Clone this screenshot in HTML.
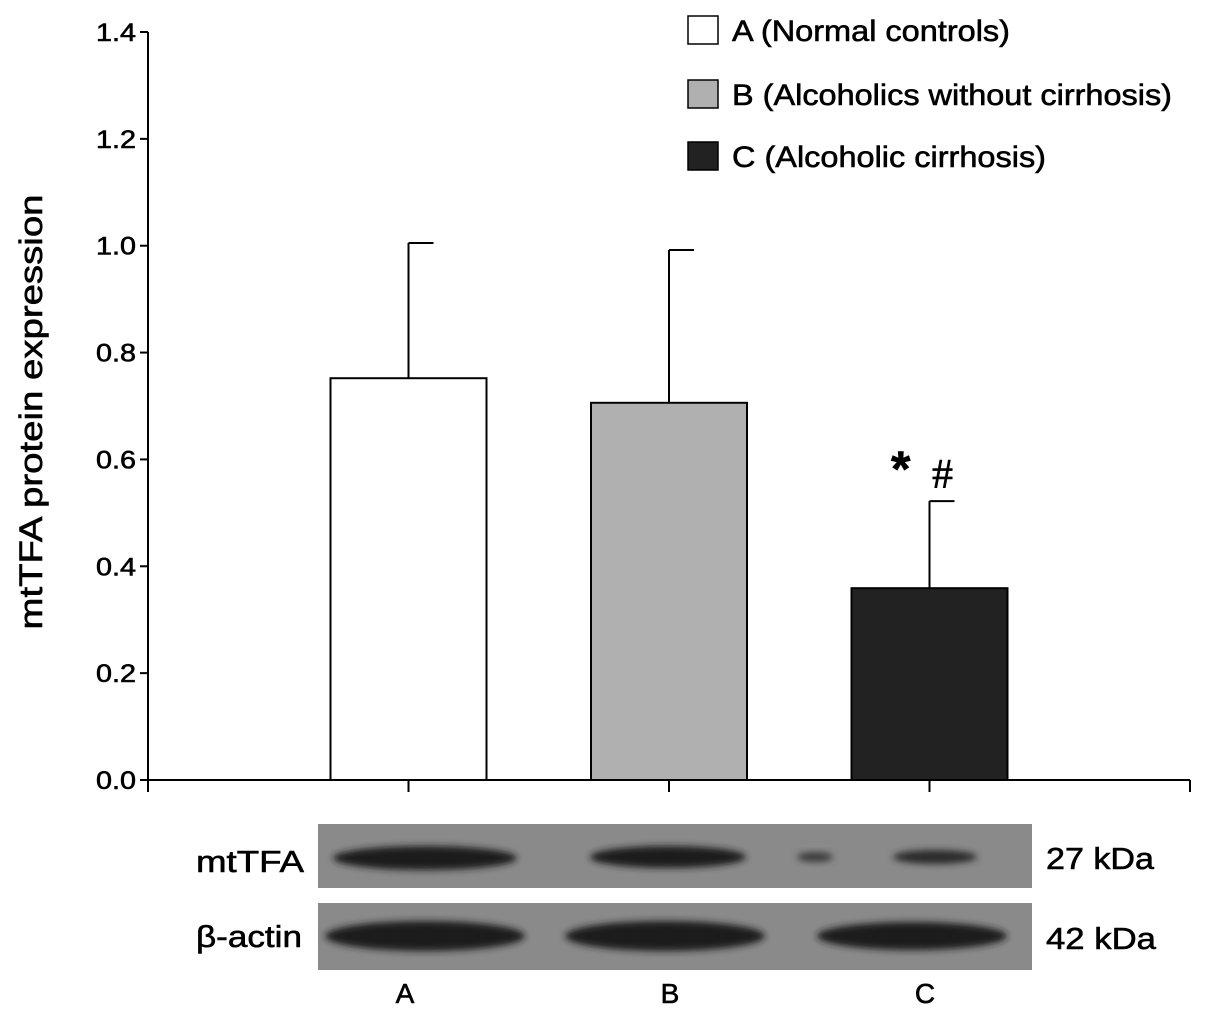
<!DOCTYPE html>
<html><head><meta charset="utf-8">
<style>
body{margin:0;background:#fff;}
svg{display:block;font-family:"Liberation Sans",sans-serif;}
text{stroke:#000;stroke-width:0.6;}
</style></head>
<body>
<svg id="chart" width="1205" height="1018" viewBox="0 0 1205 1018">
<defs>
<filter id="blur" x="-20%" y="-50%" width="140%" height="200%"><feGaussianBlur stdDeviation="3.5"/></filter>
</defs>
<g id="axes"></g>
<g id="bars"></g>
<text x="42" y="412" font-size="32" text-anchor="middle" textLength="435" lengthAdjust="spacingAndGlyphs" transform="rotate(-90 42 412)">mtTFA protein expression</text>
<text x="891" y="486" font-size="50" font-weight="bold">*</text>
<text x="932" y="488" font-size="42" font-family="Liberation Serif,serif">#</text>
<g>
  <g><rect x="688" y="16" width="30" height="28" fill="#fff" stroke="#000" stroke-width="1.5"/><text x="732" y="41" font-size="30" textLength="278" lengthAdjust="spacingAndGlyphs">A (Normal controls)</text></g>
  <g><rect x="688" y="80" width="30" height="28" fill="#b0b0b0" stroke="#000" stroke-width="1.5"/><text x="732" y="105" font-size="30" textLength="440" lengthAdjust="spacingAndGlyphs">B (Alcoholics without cirrhosis)</text></g>
  <g><rect x="688" y="142" width="30" height="28" fill="#222" stroke="#000" stroke-width="1.5"/><text x="732" y="167" font-size="30" textLength="314" lengthAdjust="spacingAndGlyphs">C (Alcoholic cirrhosis)</text></g>
</g>
<g>
  <rect x="318" y="824" width="714" height="64" fill="#8a8a8a"/>
  <ellipse cx="425" cy="858" rx="92" ry="12" fill="#1c1c1c" filter="url(#blur)"/>
  <ellipse cx="668" cy="857" rx="78" ry="11" fill="#1c1c1c" filter="url(#blur)"/>
  <ellipse cx="935" cy="857" rx="42" ry="7" fill="#2c2c2c" filter="url(#blur)"/>
  <ellipse cx="815" cy="857" rx="18" ry="5" fill="#3a3a3a" filter="url(#blur)"/>
  <rect x="318" y="903" width="714" height="67" fill="#8a8a8a"/>
  <ellipse cx="425" cy="936" rx="100" ry="15" fill="#1a1a1a" filter="url(#blur)"/>
  <ellipse cx="665" cy="936" rx="100" ry="15" fill="#1a1a1a" filter="url(#blur)"/>
  <ellipse cx="912" cy="936" rx="95" ry="14" fill="#1a1a1a" filter="url(#blur)"/>
  <text x="196" y="872" font-size="31" textLength="108" lengthAdjust="spacingAndGlyphs">mtTFA</text>
  <text x="196" y="947" font-size="31" textLength="106" lengthAdjust="spacingAndGlyphs">β-actin</text>
  <text x="1046" y="869" font-size="31" textLength="108" lengthAdjust="spacingAndGlyphs">27 kDa</text>
  <text x="1046" y="949" font-size="31" textLength="110" lengthAdjust="spacingAndGlyphs">42 kDa</text>
  <text x="405" y="1003" font-size="28" text-anchor="middle">A</text>
  <text x="670" y="1003" font-size="28" text-anchor="middle">B</text>
  <text x="925" y="1003" font-size="28" text-anchor="middle">C</text>
</g>
</svg>
<script>
const categories = ["A","B","C"];
const means = [0.752, 0.706, 0.359];
const errors = [0.253, 0.286, 0.163];
const fills = ["#ffffff","#b0b0b0","#222222"];
const yTicks = ["0.0","0.2","0.4","0.6","0.8","1.0","1.2","1.4"];

const NS="http://www.w3.org/2000/svg";
const y0=780, yTop=32, yMax=1.4, xL=148, xR=1190;
const yScale=v=>y0-(v/yMax)*(y0-yTop);
const band=(xR-xL)/4;
const xCenter=i=>xL+band*(i+1);
const barW=156;
function mk(tag,attrs,parent){const e=document.createElementNS(NS,tag);for(const k in attrs)e.setAttribute(k,attrs[k]);parent.appendChild(e);return e;}
const axes=document.getElementById('axes');
const bars=document.getElementById('bars');
let yl=mk('line',{x1:xL,y1:yTop,x2:xL,y2:y0,stroke:'#000','stroke-width':2},axes);


let xl=mk('line',{x1:xL,y1:y0,x2:xR,y2:y0,stroke:'#000','stroke-width':2},axes);


yTicks.forEach(t=>{
  const y=yScale(parseFloat(t));
  mk('line',{x1:xL-8,y1:y,x2:xL,y2:y,stroke:'#000','stroke-width':2},axes);
  const tx=mk('text',{x:xL-12,y:y+9,'font-size':25,'text-anchor':'end',textLength:40,lengthAdjust:'spacingAndGlyphs'},axes);
  tx.textContent=t;
  
  
});
for(let i=0;i<=4;i++){
  const x=xL+band*i;
  mk('line',{x1:x,y1:y0,x2:x,y2:y0+12,stroke:'#000','stroke-width':2},axes);
}
categories.forEach((c,i)=>{
  const cx=xCenter(i);
  const top=yScale(means[i]);
  const et=yScale(means[i]+errors[i]);
  const el=mk('line',{x1:cx,y1:top,x2:cx,y2:et,stroke:'#000','stroke-width':2},bars);
  
  
  mk('line',{x1:cx,y1:et,x2:cx+25,y2:et,stroke:'#000','stroke-width':2},bars);
  const r=mk('rect',{x:cx-barW/2,y:top,width:barW,height:y0-top,fill:fills[i],stroke:'#000','stroke-width':2},bars);
  
  
});
</script>
</body></html>
